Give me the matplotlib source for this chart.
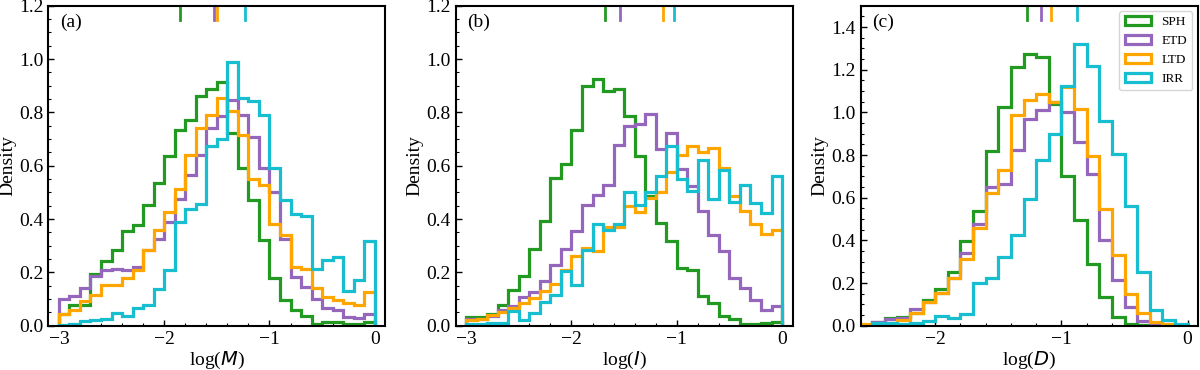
import numpy as np
import matplotlib
matplotlib.use("Agg")
import matplotlib.pyplot as plt
from matplotlib.ticker import AutoMinorLocator

plt.rcParams['font.family'] = ['Liberation Serif', 'DejaVu Serif']
plt.rcParams['mathtext.fontset'] = 'dejavusans'
plt.rcParams['font.size'] = 14

labels = ["SPH", "ETD", "LTD", "IRR"]
colors = ["#229a22", "#9467bd", "#ffa500", "#17becf"]

# ---- panel (a): log(M), bins -3..0 step 0.1
edges_a = np.round(np.arange(-3.0, 0.001, 0.1), 2)
sph_a = [0.045, 0.077, 0.077, 0.194, 0.244, 0.285, 0.356, 0.379, 0.451, 0.537,
         0.635, 0.733, 0.773, 0.86, 0.889, 0.914, 0.723, 0.591, 0.47, 0.323,
         0.179, 0.095, 0.06, 0.035, 0.008, 0.013, 0.013, 0.005, 0.008, 0.013]
etd_a = [0.10, 0.11, 0.14, 0.185, 0.21, 0.2125, 0.2075, 0.22, 0.285, 0.326,
         0.3875, 0.476, 0.566, 0.641, 0.741, 0.785, 0.845, 0.79, 0.706, 0.591,
         0.501, 0.326, 0.1825, 0.145, 0.1, 0.066, 0.06, 0.031, 0.029, 0.044]
ltd_a = [0.045, 0.06, 0.091, 0.114, 0.1525, 0.154, 0.1775, 0.21, 0.285, 0.36,
         0.425, 0.514, 0.641, 0.74, 0.79, 0.854, 0.806, 0.716, 0.55, 0.529,
         0.3825, 0.341, 0.22, 0.214, 0.141, 0.1075, 0.0975, 0.085, 0.076, 0.126]
irr_a = [0.003, 0.008, 0.016, 0.0225, 0.025, 0.0475, 0.0375, 0.066, 0.076, 0.1375,
         0.21, 0.3875, 0.439, 0.456, 0.675, 0.70, 0.99, 0.854, 0.841, 0.789,
         0.591, 0.47, 0.419, 0.41, 0.2125, 0.245, 0.2575, 0.129, 0.17, 0.316]
med_a = [-1.85, -1.53, -1.50, -1.23]

# ---- panel (b): log(I), bins -3..0 step 0.1
edges_b = edges_a
sph_b = [0.031, 0.031, 0.045, 0.079, 0.135, 0.1875, 0.2875, 0.394, 0.554, 0.606,
         0.735, 0.8975, 0.925, 0.879, 0.8875, 0.7875, 0.635, 0.4875, 0.385, 0.316,
         0.216, 0.21, 0.11, 0.085, 0.0375, 0.025, 0.0075, 0.0075, 0.01, 0.0125]
etd_b = [0.025, 0.025, 0.035, 0.06, 0.0725, 0.106, 0.126, 0.166, 0.226, 0.289,
         0.354, 0.451, 0.489, 0.529, 0.679, 0.75, 0.7575, 0.795, 0.664, 0.7225,
         0.589, 0.5225, 0.43, 0.341, 0.279, 0.179, 0.141, 0.0975, 0.06, 0.0725]
ltd_b = [0.02, 0.025, 0.04, 0.05, 0.065, 0.085, 0.105, 0.13, 0.155, 0.21,
         0.26, 0.29, 0.28, 0.37, 0.37, 0.45, 0.425, 0.48, 0.50, 0.575,
         0.64, 0.675, 0.65, 0.665, 0.59, 0.4875, 0.43, 0.38, 0.345, 0.36]
irr_b = [0.008, 0.008, 0.012, 0.012, 0.054, 0.0225, 0.0475, 0.089, 0.116, 0.206,
         0.151, 0.2825, 0.381, 0.36, 0.3825, 0.5, 0.454, 0.5, 0.56, 0.6725,
         0.55, 0.504, 0.62, 0.475, 0.585, 0.4625, 0.529, 0.46, 0.4225, 0.56]
med_b = [-1.68, -1.54, -1.13, -1.03]

# ---- panel (c): log(D), bins -2.5..0 step 0.1 (LTD starts at -2.6)
edges_c = np.round(np.arange(-2.5, 0.001, 0.1), 2)
edges_c_ltd = np.round(np.arange(-2.6, 0.001, 0.1), 2)
sph_c = [0.017, 0.034, 0.042, 0.061, 0.12, 0.17, 0.253, 0.398, 0.539, 0.818,
         1.025, 1.213, 1.275, 1.26, 1.04, 0.702, 0.495, 0.287, 0.136, 0.042,
         0.008, 0.003, 0.0, 0.0, 0.0]
etd_c = [0.019, 0.03, 0.034, 0.076, 0.112, 0.151, 0.222, 0.343, 0.479, 0.651,
         0.662, 0.822, 0.968, 1.013, 1.05, 1.0, 0.862, 0.709, 0.404, 0.212,
         0.089, 0.021, 0.008, 0.005, 0.0]
ltd_c = [0.008, 0.008, 0.011, 0.027, 0.058, 0.109, 0.151, 0.222, 0.312, 0.456,
         0.624, 0.729, 0.986, 1.057, 1.085, 1.05, 1.12, 1.018, 0.795, 0.549,
         0.331, 0.148, 0.061, 0.019, 0.008, 0.0]
irr_c = [0.011, 0.011, 0.008, 0.011, 0.02, 0.045, 0.037, 0.055, 0.198, 0.222,
         0.323, 0.425, 0.593, 0.776, 0.9, 1.122, 1.322, 1.216, 0.96, 0.807,
         0.56, 0.253, 0.073, 0.027, 0.008]
med_c = [-1.275, -1.16, -1.085, -0.88]

panels = [
    dict(edges=[edges_a] * 4, vals=[sph_a, etd_a, ltd_a, irr_a], med=med_a,
         xlabel=r"log($M$)", tag="(a)", xlim=(-3.1, 0.1), ylim=(0, 1.2),
         yticks=np.arange(0, 1.21, 0.2), xticks=[-3, -2, -1, 0]),
    dict(edges=[edges_b] * 4, vals=[sph_b, etd_b, ltd_b, irr_b], med=med_b,
         xlabel=r"log($I$)", tag="(b)", xlim=(-3.1, 0.1), ylim=(0, 1.2),
         yticks=np.arange(0, 1.21, 0.2), xticks=[-3, -2, -1, 0]),
    dict(edges=[edges_c, edges_c, edges_c_ltd, edges_c],
         vals=[sph_c, etd_c, ltd_c, irr_c], med=med_c,
         xlabel=r"log($D$)", tag="(c)", xlim=(-2.59, 0.08), ylim=(0, 1.5),
         yticks=np.arange(0, 1.41, 0.2), xticks=[-2, -1, 0]),
]

fig = plt.figure(figsize=(12, 3.7), dpi=100)
lefts = [0.0403, 0.3797, 0.7173]
for p, left in zip(panels, lefts):
    ax = fig.add_axes([left, 0.1197, 0.2808, 0.8649])
    for e, v, c, lab in zip(p['edges'], p['vals'], colors, labels):
        e = np.asarray(e)
        centers = (e[:-1] + e[1:]) / 2
        ax.hist(centers, bins=e, weights=v, histtype='step', color=c,
                lw=2.3, label=lab)
    for m, c in zip(p['med'], colors):
        ax.axvline(m, ymin=0.955, ymax=1.0, color=c, lw=2)
    ax.set_xlim(*p['xlim'])
    ax.set_ylim(*p['ylim'])
    ax.set_xticks(p['xticks'])
    ax.set_yticks(p['yticks'])
    ax.set_yticklabels([f"{t:.1f}" for t in p['yticks']])
    ax.xaxis.set_minor_locator(AutoMinorLocator())
    ax.yaxis.set_minor_locator(AutoMinorLocator())
    ax.tick_params(which='both', direction='in', top=False, right=False)
    ax.tick_params(which='major', length=4, width=1)
    ax.tick_params(which='minor', length=2, width=0.8)
    for s in ax.spines.values():
        s.set_linewidth(1.5)
    ax.set_xlabel(p['xlabel'], labelpad=2)
    ax.set_ylabel("Density", labelpad=2)
    ax.text(0.035, 0.975, p['tag'], transform=ax.transAxes, va='top', ha='left',
            fontsize=14)
    if p['tag'] == "(c)":
        ax.legend(loc='upper right', fontsize=9.5, handlelength=2.0,
                  borderaxespad=0.4)

fig.savefig("out.png", dpi=100)
